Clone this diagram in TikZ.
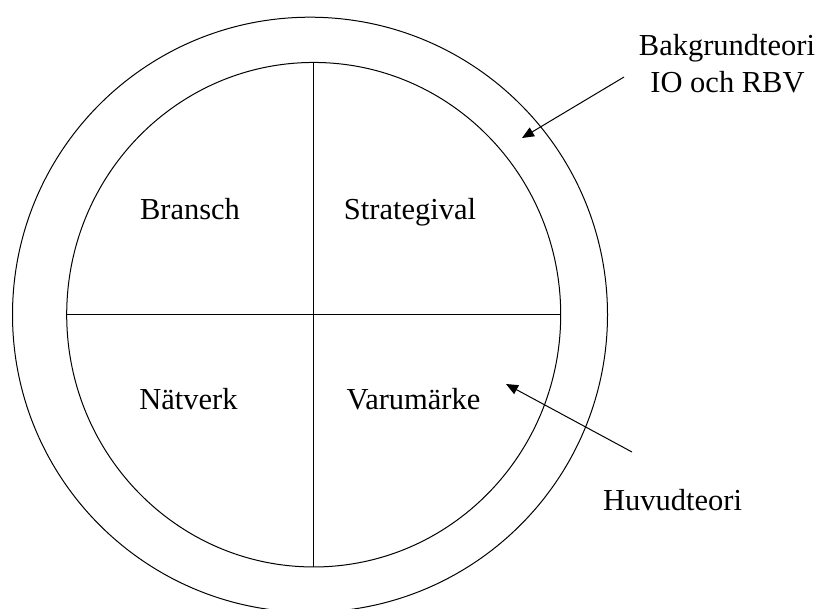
\documentclass[tikz,border=0pt]{standalone}
\usepackage{fontspec}
\setmainfont{Liberation Serif}
\usetikzlibrary{shapes.geometric,arrows.meta}
\begin{document}
\begin{tikzpicture}[x=1pt,y=-1pt,
  ln/.style={line width=1pt,draw=black},
  lbl/.style={anchor=base,inner sep=0pt,font=\fontsize{30.5}{36.6}\selectfont},
  arr/.style={line width=1pt,-{Triangle[length=12pt,width=10pt]}}]
\useasboundingbox (0,0) rectangle (821,608);
\clip (0,0) rectangle (821,608);
\node[ln,circle,minimum size=595pt,inner sep=0pt] (outer) at (310,314.7) {};
\node[ln,ellipse,minimum width=494pt,minimum height=504.5pt,inner sep=0pt] (inner) at (313.7,314.7) {};
\draw[ln] (inner.north) -- (inner.south);
\draw[ln] (inner.west) -- (inner.east);
\node[lbl] (bransch) at (190,219) {Bransch};
\node[lbl] (strategi) at (410,219) {Strategival};
\node[lbl] (natverk) at (188.5,409) {Nätverk};
\node[lbl] (varum) at (413.5,409) {Varumärke};
\node[lbl] (bakg) at (727,55) {Bakgrundteori};
\node[lbl] (iorbv) at (727.5,92) {IO och RBV};
\node[lbl] (huvud) at (672.5,510) {Huvudteori};
\coordinate (a1s) at (624,77);
\coordinate (a1e) at (522,138);
\coordinate (a2s) at (632,452);
\coordinate (a2e) at (506,384);
\draw[arr] (a1s) -- (a1e);
\draw[arr] (a2s) -- (a2e);
\end{tikzpicture}
\end{document}
